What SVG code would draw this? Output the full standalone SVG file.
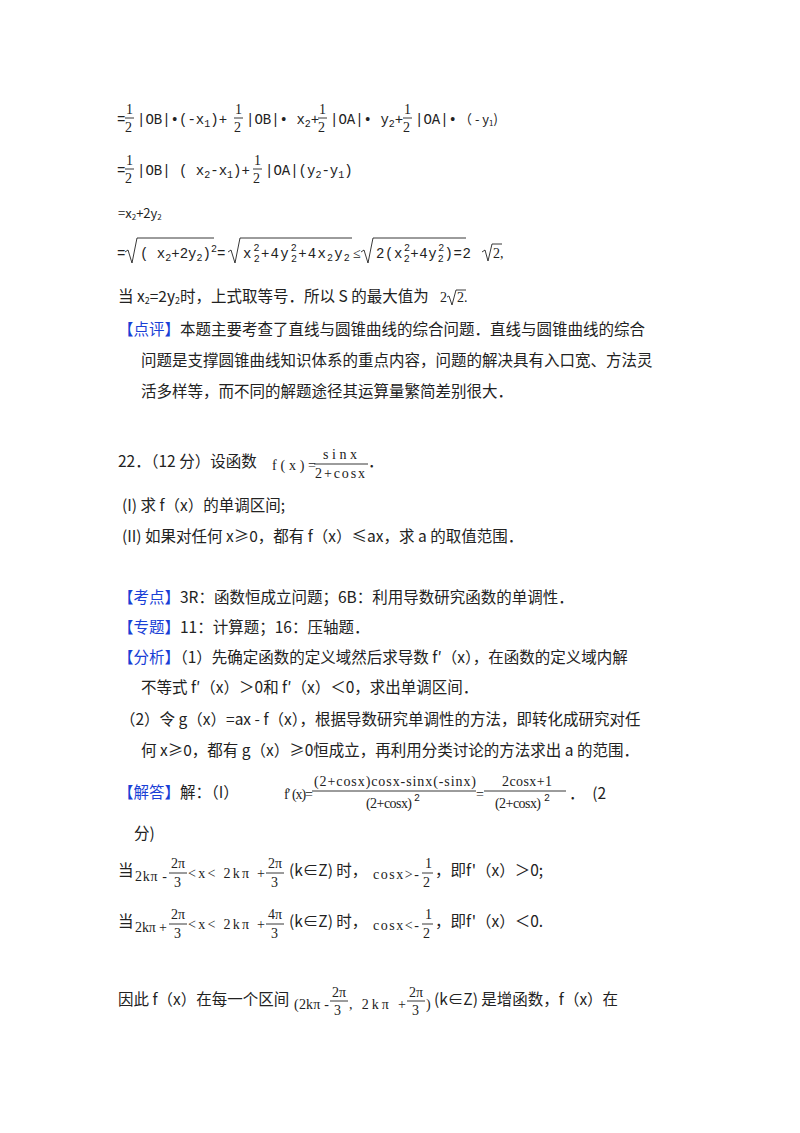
<svg xmlns="http://www.w3.org/2000/svg" width="800" height="1133" viewBox="0 0 800 1133">
<style>
text{font-family:"Noto Sans CJK SC","Noto Sans",sans-serif;font-size:15.5px;fill:#222}
.m{font-family:"Liberation Mono","DejaVu Sans Mono",monospace;font-size:14px}
.s{font-family:"Liberation Mono",monospace;font-size:10px}
.f{font-family:"Liberation Serif","DejaVu Serif",serif;font-size:14px}
.b{fill:#1a3fd6}
line{stroke:#222;stroke-width:0.9}
path{fill:none;stroke:#222;stroke-width:0.9}
</style>
<rect width="800" height="1133" fill="#fff"/>
<g id="line1">
<text x="117" y="124" class="m">=</text>
<text x="126" y="114" class="f">1</text><line x1="125" y1="118" x2="134" y2="118"/><text x="125" y="132" class="f">2</text>
<text x="137" y="124" class="m">|OB|•(-x<tspan class="s" dy="3">1</tspan><tspan dy="-3">)+</tspan></text>
<text x="235" y="114" class="f">1</text><line x1="234" y1="118" x2="243" y2="118"/><text x="234" y="132" class="f">2</text>
<text x="246" y="124" class="m">|OB|• x<tspan class="s" dy="3">2</tspan><tspan dy="-3">+</tspan></text>
<text x="319" y="114" class="f">1</text><line x1="318" y1="118" x2="327" y2="118"/><text x="318" y="132" class="f">2</text>
<text x="330" y="124" class="m">|OA|• y<tspan class="s" dy="3">2</tspan><tspan dy="-3">+</tspan></text>
<text x="404" y="114" class="f">1</text><line x1="403" y1="118" x2="412" y2="118"/><text x="403" y="132" class="f">2</text>
<text x="415" y="124" class="m">|OA|•</text>
<text x="459" y="124" style="font-size:13px">（ - y<tspan style="font-size:8px" dy="2">1</tspan><tspan dy="-2">)</tspan></text>
</g>
<g id="line2">
<text x="117" y="175" class="m">=</text>
<text x="126" y="165" class="f">1</text><line x1="125" y1="169" x2="134" y2="169"/><text x="125" y="183" class="f">2</text>
<text x="137" y="175" class="m">|OB| ( x<tspan class="s" dy="3">2</tspan><tspan dy="-3">-x</tspan><tspan class="s" dy="3">1</tspan><tspan dy="-3">)+</tspan></text>
<text x="254" y="165" class="f">1</text><line x1="253" y1="169" x2="262" y2="169"/><text x="253" y="183" class="f">2</text>
<text x="265" y="175" class="m">|OA|(y<tspan class="s" dy="3">2</tspan><tspan dy="-3">-y</tspan><tspan class="s" dy="3">1</tspan><tspan dy="-3">)</tspan></text>
</g>
<text id="line3" x="118" y="218" style="font-size:13px">=x<tspan style="font-size:8px" dy="2">2</tspan><tspan dy="-2">+2y</tspan><tspan style="font-size:8px" dy="2">2</tspan></text>
<g id="line4">
<text x="117" y="258" class="m">=</text>
<path d="M125,252 L128,250 L132,263 L137,238 L214,238"/>
<text x="140" y="258" class="m">( x<tspan class="s" dy="3">2</tspan><tspan dy="-3">+2y</tspan><tspan class="s" dy="3">2</tspan><tspan dy="-3">)</tspan><tspan class="s" dy="-6">2</tspan><tspan dy="6">=</tspan></text>
<path d="M228,252 L231,250 L235,263 L240,238 L352,238"/>
<text x="243" y="258" class="m" letter-spacing="1.2">x<tspan class="s" dx="1" dy="-7">2</tspan><tspan class="s" dx="-7" dy="11">2</tspan><tspan dy="-4">+4y</tspan><tspan class="s" dx="1" dy="-7">2</tspan><tspan class="s" dx="-7" dy="11">2</tspan><tspan dy="-4">+4x</tspan><tspan class="s" dy="3">2</tspan><tspan dy="-3">y</tspan><tspan class="s" dy="3">2</tspan></text>
<text x="353" y="258" class="f">≤</text>
<path d="M361,252 L364,250 L368,263 L373,238 L466,238"/>
<text x="376" y="258" class="m" letter-spacing="0.6">2(x<tspan class="s" dx="1" dy="-7">2</tspan><tspan class="s" dx="-7" dy="11">2</tspan><tspan dy="-4">+4y</tspan><tspan class="s" dx="1" dy="-7">2</tspan><tspan class="s" dx="-7" dy="11">2</tspan><tspan dy="-4">)=2</tspan></text>
<path d="M482,252 L485,250 L488,261 L492,244 L502,244"/>
<text x="493" y="258" class="f">2,</text>
</g>
<g id="line5">
<text x="118" y="302">当 x<tspan style="font-size:9px" dy="2">2</tspan><tspan dy="-2">=2y</tspan><tspan style="font-size:9px" dy="2">2</tspan><tspan dy="-2">时，上式取等号．所以 S 的最大值为</tspan></text>
<text x="440" y="302" class="f">2</text>
<path d="M447,297 L449,296 L452,305 L456,290 L466,290"/>
<text x="457" y="302" class="f">2.</text>
</g>
<g id="dianping">
<text x="118" y="335"><tspan class="b">【点评】</tspan>本题主要考查了直线与圆锥曲线的综合问题．直线与圆锥曲线的综合</text>
<text x="141" y="366">问题是支撑圆锥曲线知识体系的重点内容，问题的解决具有入口宽、方法灵</text>
<text x="141" y="397">活多样等，而不同的解题途径其运算量繁简差别很大．</text>
</g>
<g id="q22">
<text x="118" y="467">22．（12 分）设函数</text>
<text x="272" y="470" class="f" textLength="44">f(x)=</text>
<text x="323" y="459" class="f" textLength="34">sinx</text><line x1="314" y1="464" x2="368" y2="464"/><text x="315" y="478" class="f" textLength="50">2+cosx</text>
<text x="368" y="467">．</text>
<text x="122" y="511">(I) 求 f（x）的单调区间;</text>
<text x="122" y="542">(II) 如果对任何 x≥0，都有 f（x）≤ax，求 a 的取值范围．</text>
</g>
<g id="analysis">
<text x="118" y="603"><tspan class="b">【考点】</tspan>3R：函数恒成立问题；6B：利用导数研究函数的单调性．</text>
<text x="118" y="633"><tspan class="b">【专题】</tspan>11：计算题；16：压轴题．</text>
<text x="118" y="663"><tspan class="b">【分析】</tspan>（1）先确定函数的定义域然后求导数 f′（x），在函数的定义域内解</text>
<text x="141" y="693">不等式 f′（x）＞0和 f′（x）＜0，求出单调区间．</text>
<text x="120" y="725">（2）令 g（x）=ax - f（x），根据导数研究单调性的方法，即转化成研究对任</text>
<text x="141" y="756">何 x≥0，都有 g（x）≥0恒成立，再利用分类讨论的方法求出 a 的范围．</text>
</g>
<g id="answer">
<text x="118" y="798"><tspan class="b">【解答】</tspan>解：（I）</text>
<text x="284" y="799" class="f" textLength="29">f′ (x)=</text>
<text x="314" y="786" class="f" textLength="162">(2+cosx)cosx-sinx(-sinx)</text><line x1="312" y1="791" x2="476" y2="791"/>
<text x="366" y="808" class="f" textLength="46">(2+cosx)</text><text x="414" y="801" class="s">2</text>
<text x="476" y="799" class="f">=</text>
<text x="502" y="786" class="f" textLength="50">2cosx+1</text><line x1="484" y1="791" x2="566" y2="791"/>
<text x="495" y="808" class="f" textLength="46">(2+cosx)</text><text x="544" y="801" class="s">2</text>
<text x="569" y="799">．　(2</text>
<text x="134" y="839">分)</text>
</g>
<g id="case1">
<text x="118" y="876">当</text>
<text x="135" y="881" class="f" textLength="32">2kπ -</text>
<text x="171" y="868" class="f">2π</text><line x1="169" y1="873" x2="187" y2="873"/><text x="174" y="887" class="f">3</text>
<text x="188" y="878" class="f" textLength="77">&lt;x&lt; 2kπ +</text>
<text x="268" y="868" class="f">2π</text><line x1="266" y1="873" x2="284" y2="873"/><text x="271" y="887" class="f">3</text>
<text x="289" y="876">(k∈Z) 时，</text>
<text x="373" y="879" class="f" textLength="46">cosx&gt;-</text>
<text x="425" y="868" class="f">1</text><line x1="422" y1="873" x2="433" y2="873"/><text x="423" y="887" class="f">2</text>
<text x="435" y="876">，即f'（x）＞0;</text>
</g>
<g id="case2">
<text x="118" y="927">当</text>
<text x="135" y="932" class="f" textLength="32">2kπ +</text>
<text x="171" y="919" class="f">2π</text><line x1="169" y1="924" x2="187" y2="924"/><text x="174" y="938" class="f">3</text>
<text x="188" y="929" class="f" textLength="77">&lt;x&lt; 2kπ +</text>
<text x="268" y="919" class="f">4π</text><line x1="266" y1="924" x2="284" y2="924"/><text x="271" y="938" class="f">3</text>
<text x="289" y="927">(k∈Z) 时，</text>
<text x="373" y="930" class="f" textLength="46">cosx&lt;-</text>
<text x="425" y="919" class="f">1</text><line x1="422" y1="924" x2="433" y2="924"/><text x="423" y="938" class="f">2</text>
<text x="435" y="927">，即f'（x）＜0.</text>
</g>
<g id="conclusion">
<text x="118" y="1005">因此 f（x）在每一个区间</text>
<text x="294" y="1009" class="f" textLength="35">(2kπ -</text>
<text x="332" y="997" class="f">2π</text><line x1="330" y1="1001" x2="348" y2="1001"/><text x="334" y="1015" class="f">3</text>
<text x="349" y="1009" class="f" textLength="57">,  2kπ +</text>
<text x="409" y="997" class="f">2π</text><line x1="407" y1="1001" x2="425" y2="1001"/><text x="412" y="1015" class="f">3</text>
<text x="426" y="1009" class="f">)</text>
<text x="434" y="1005">(k∈Z) 是增函数，f（x）在</text>
</g>
</svg>
